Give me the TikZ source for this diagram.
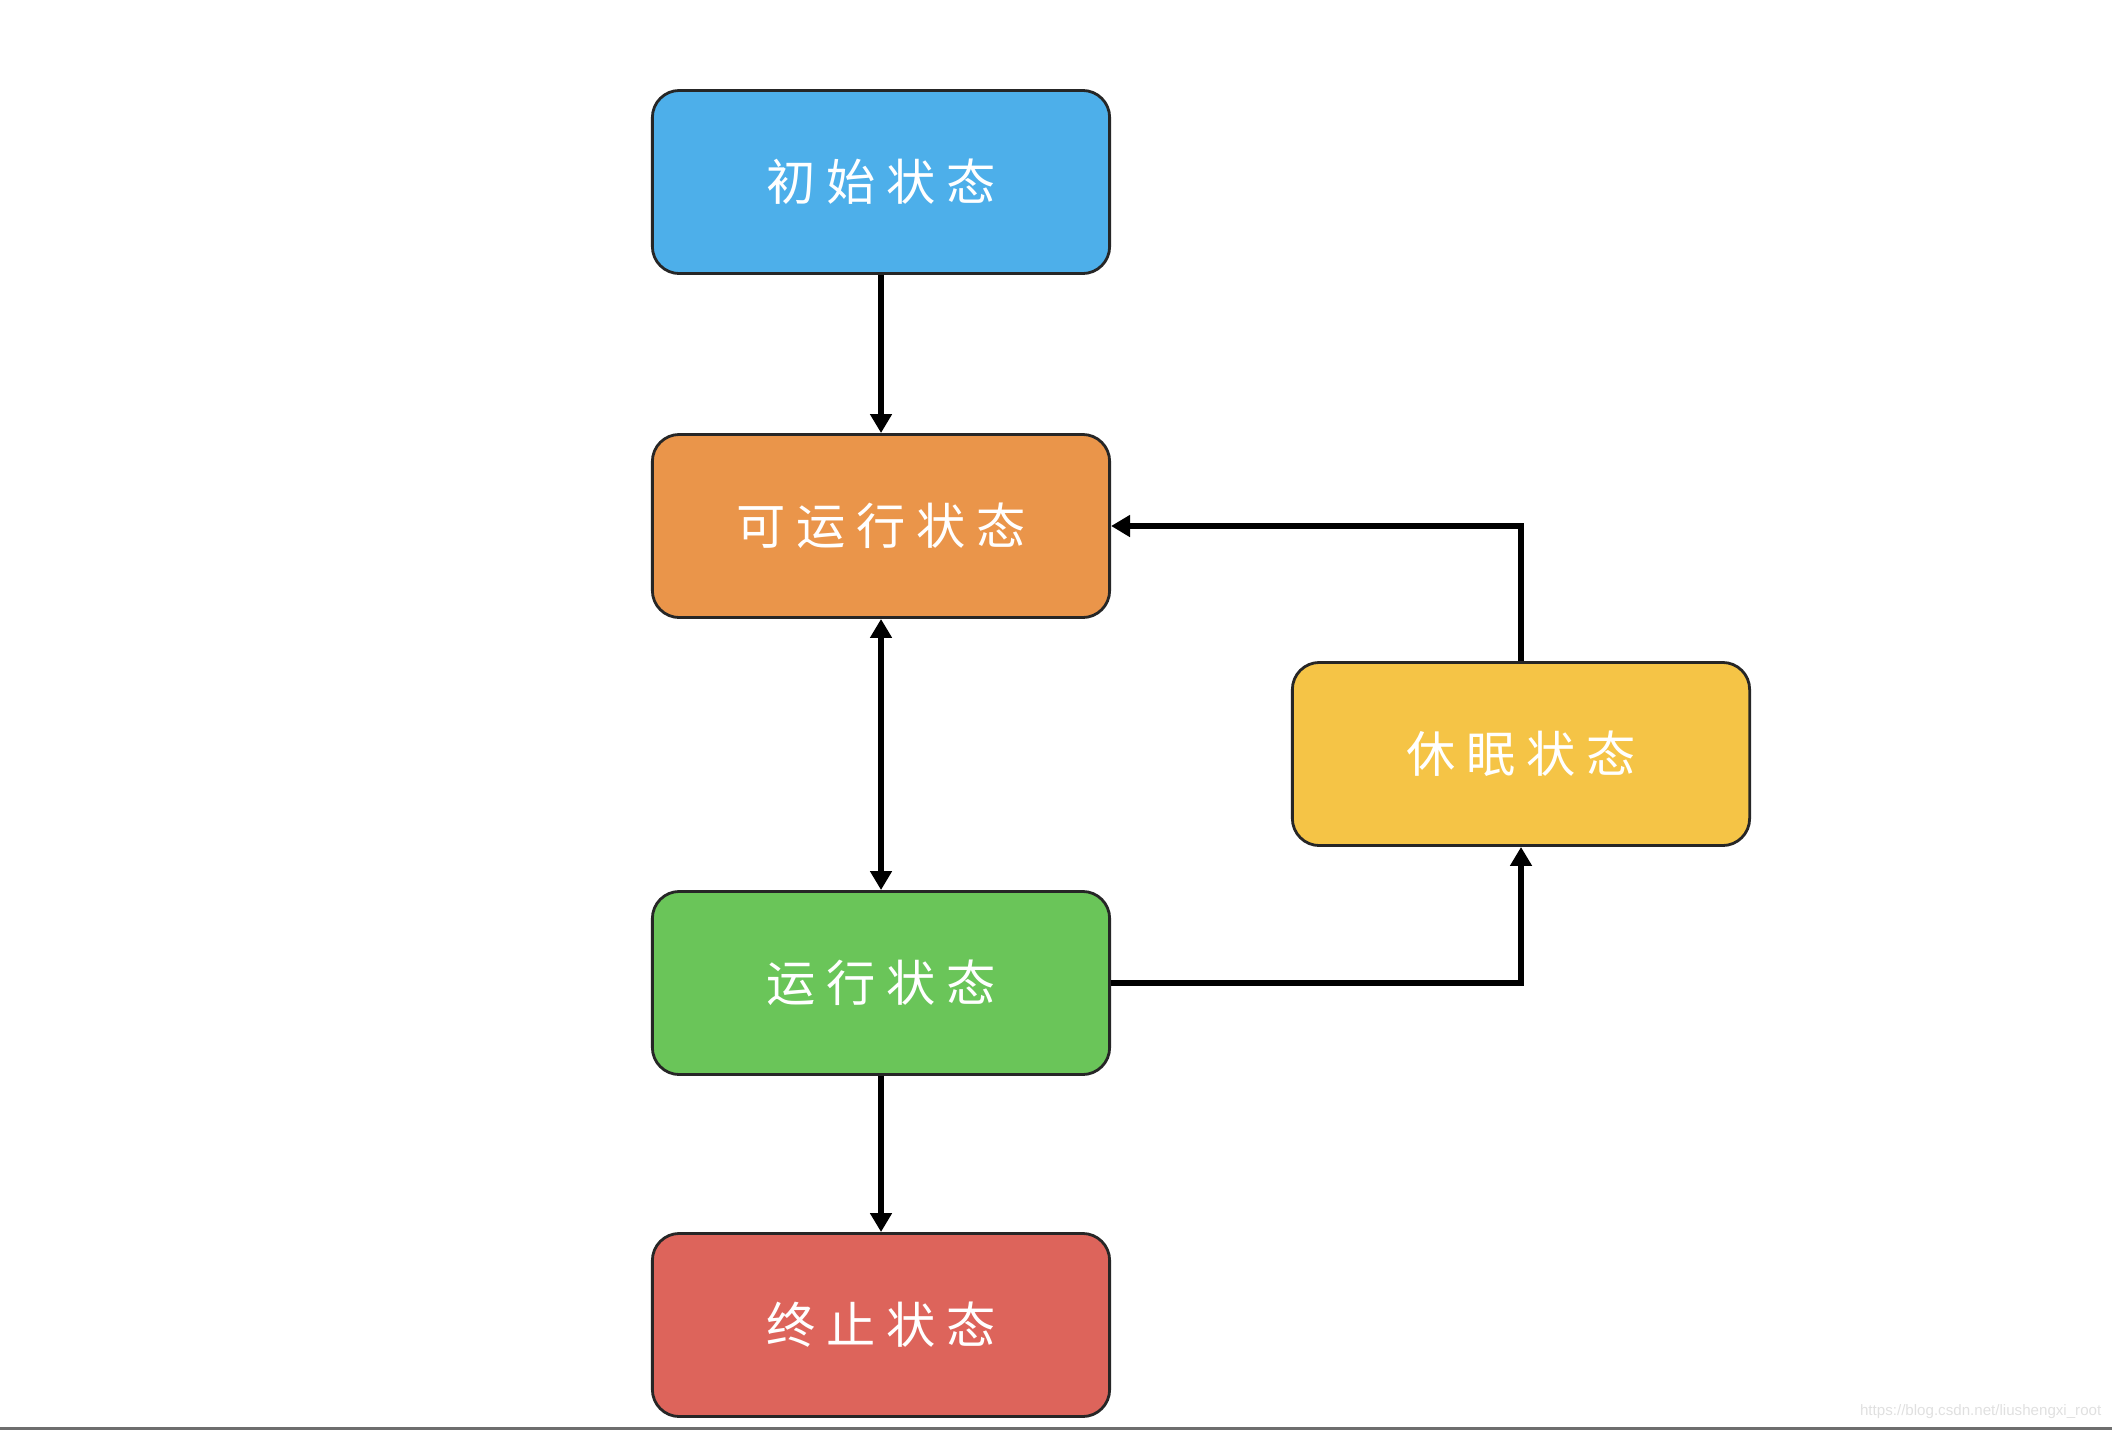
\documentclass[tikz,border=0pt]{standalone}
\usepackage{fontspec}
\setmainfont{Liberation Sans}
\newfontfamily\cjk[LetterSpace=22]{Noto Sans CJK SC}
\usetikzlibrary{arrows.meta}
\definecolor{newblue}{HTML}{4DAFEA}
\definecolor{readyorange}{HTML}{EA954A}
\definecolor{rungreen}{HTML}{6AC559}
\definecolor{sleepyellow}{HTML}{F5C446}
\definecolor{endred}{HTML}{DD645B}
\tikzset{
  >={Triangle[length=0.19cm,width=0.21cm]},
  state/.style={draw=black!85, line width=0.8pt, rounded corners=0.27cm,
    minimum width=4.57cm, minimum height=1.83cm, text=white,
    font=\cjk\fontsize{14}{16}\selectfont},
  link/.style={line width=1.6pt, ->}
}

\begin{document}
\begin{tikzpicture}[x=0.01cm, y=-0.01cm]
\useasboundingbox (0,0) rectangle (2112,1430);
\path (881,182) node[state, fill=newblue] (new) {初始状态};
\path (881,526) node[state, fill=readyorange] (ready) {可运行状态};
\path (881,983) node[state, fill=rungreen] (run) {运行状态};
\path (881,1325) node[state, fill=endred] (end) {终止状态};
\path (1521,754) node[state, fill=sleepyellow] (sleep) {休眠状态};
\draw[link] (new) -- (ready);
\draw[link, <->] (ready) -- (run);
\draw[link] (run) -- (end);
\draw[link] (run.east) -| (sleep.south);
\draw[link] (sleep.north) |- (ready.east);
% watermark and bottom rule
\path (2102,1412) node[anchor=east, inner sep=0, text=black!12,
    font=\fontsize{4.3}{5}\selectfont] (mark) {https://blog.csdn.net/liushengxi\_root};
\fill[black!57] (0,1427) rectangle (2112,1430);
\end{tikzpicture}
\end{document}
